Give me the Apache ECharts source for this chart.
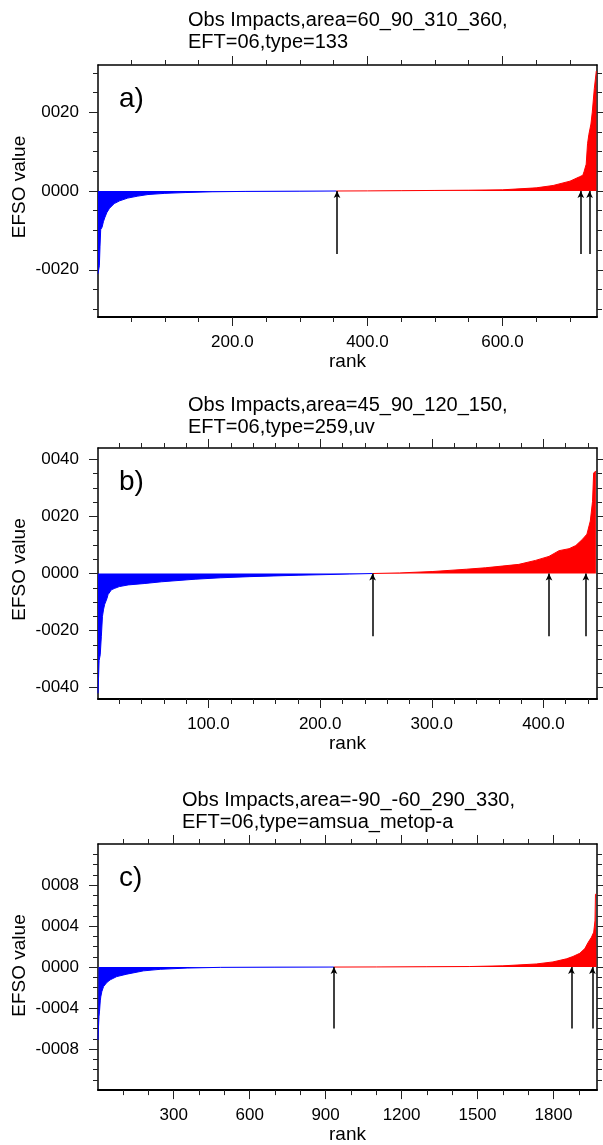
<!DOCTYPE html>
<html>
<head>
<meta charset="utf-8">
<script src="https://cdn.jsdelivr.net/npm/echarts@6/dist/echarts.min.js"></script>
<style>
html,body{margin:0;padding:0;background:#fff;}
#chart{width:603px;height:1145px;}
</style>
</head>
<body>
<div id="chart"></div>
<script>
// ---------- data (rank, EFSO value) ----------
const negA = [[1,-0.00210],[2,-0.00205],[3,-0.00190],[4,-0.00140],[5,-0.00098],[7,-0.00092],[9,-0.00078],[11,-0.00068],[14,-0.00055],[18,-0.00044],[25,-0.00032],[33,-0.00025],[45,-0.00018],[60,-0.00013],[75,-0.00009],[100,-0.00006],[130,-0.00004],[170,-0.00002],[220,-0.00001],[300,-0.000004],[354,0]];
const posA = [[354,0],[400,0.000003],[450,0.000008],[500,0.000014],[550,0.00002],[600,0.00003],[650,0.00008],[675,0.00014],[700,0.00025],[714,0.00036],[719,0.00040],[721,0.00050],[724,0.00068],[726,0.00120],[728,0.00144],[731,0.00170],[733,0.00200],[736,0.00260],[739,0.00305]];
const arrowsA = [355, 716, 729];
const arrowLowA = -0.0016;

const negB = [[1,-0.00420],[2,-0.00305],[3,-0.00285],[4,-0.00220],[5,-0.00150],[6,-0.00125],[7,-0.00108],[9,-0.00088],[10,-0.00074],[13,-0.00057],[16,-0.00052],[20,-0.00046],[28,-0.00040],[43,-0.00035],[58,-0.00029],[88,-0.00020],[111,-0.00015],[137,-0.00011],[181,-0.00006],[226,-0.00002],[247,0]];
const posB = [[247,0],[271,0.00002],[301,0.00007],[331,0.00015],[348,0.00020],[363,0.00026],[378,0.00032],[393,0.00046],[405,0.00060],[414,0.00080],[423,0.00087],[429,0.00098],[435,0.00120],[439,0.00138],[442,0.00184],[444,0.00253],[445,0.00352],[447,0.00360]];
const arrowsB = [247, 405, 438];
const arrowLowB = -0.0022;

const negC = [[1,-0.00071],[3,-0.00058],[5,-0.00048],[7,-0.00043],[10,-0.00033],[12,-0.00029],[16,-0.00024],[23,-0.00019],[36,-0.00015],[49,-0.000125],[75,-0.000093],[115,-0.000069],[181,-0.000037],[247,-0.000022],[353,-0.00001],[485,-0.000003],[700,-0.000001],[933,0]];
const posC = [[933,0],[1100,0.000001],[1300,0.000003],[1468,0.000005],[1600,0.000012],[1732,0.00003],[1798,0.00005],[1851,0.00008],[1877,0.000103],[1904,0.000134],[1924,0.00018],[1937,0.00024],[1950,0.00029],[1959,0.00034],[1964,0.00045],[1966,0.00071],[1970,0.00071]];
const arrowsC = [933, 1871, 1954];
const arrowLowC = -0.0006;

// ---------- ticks ----------
const xMajorA = [200, 400, 600];
const xMinorA = [50,100,150,250,300,350,450,500,550,650,700];
const yMajorA = [-0.002, 0, 0.002];
const yMinorA = [-0.003,-0.0025,-0.0015,-0.001,-0.0005,0.0005,0.001,0.0015,0.0025,0.003];

const xMajorB = [100, 200, 300, 400];
const xMinorB = [20,40,60,80,120,140,160,180,220,240,260,280,320,340,360,380,420,440];
const yMajorB = [-0.004, -0.002, 0, 0.002, 0.004];
const yMinorB = [-0.0035,-0.003,-0.0025,-0.0015,-0.001,-0.0005,0.0005,0.001,0.0015,0.0025,0.003,0.0035];

const xMajorC = [300, 600, 900, 1200, 1500, 1800];
const xMinorC = [100,200,400,500,700,800,1000,1100,1300,1400,1600,1700,1900];
const yMajorC = [-0.0008, -0.0004, 0, 0.0004, 0.0008];
const yMinorC = [-0.0011,-0.001,-0.0009,-0.0007,-0.0006,-0.0005,-0.0003,-0.0002,-0.0001,0.0001,0.0002,0.0003,0.0005,0.0006,0.0007,0.0009,0.001,0.0011];

const titles = [
  'Obs Impacts,area=60_90_310_360,\nEFT=06,type=133',
  'Obs Impacts,area=45_90_120_150,\nEFT=06,type=259,uv',
  'Obs Impacts,area=-90_-60_290_330,\nEFT=06,type=amsua_metop-a'
];
const panelTags = ['a)', 'b)', 'c)'];

// ---------- layout ----------
const FONT = 'Liberation Sans';
const panels = [
  {top:65, height:252, xmin:1, xmax:740, ymin:-0.0032, ymax:0.0032, xMaj:xMajorA, xMin:xMinorA, yMaj:yMajorA, yMin:yMinorA, neg:negA, pos:posA, arrows:arrowsA, low:arrowLowA, xfmt:v=>v.toFixed(1), titleTop:9, titleLeft:188},
  {top:448, height:251, xmin:1, xmax:448, ymin:-0.0044, ymax:0.0044, xMaj:xMajorB, xMin:xMinorB, yMaj:yMajorB, yMin:yMinorB, neg:negB, pos:posB, arrows:arrowsB, low:arrowLowB, xfmt:v=>v.toFixed(1), titleTop:394, titleLeft:188},
  {top:844, height:251, xmin:1, xmax:1972, ymin:-0.0012, ymax:0.0012, xMaj:xMajorC, xMin:xMinorC, yMaj:yMajorC, yMin:yMinorC, neg:negC, pos:posC, arrows:arrowsC, low:arrowLowC, xfmt:v=>String(v), titleTop:789, titleLeft:182}
];

function yfmt(v){
  const n = Math.round(Math.abs(v) * 1e4);
  return (v < 0 ? '-' : '') + String(n).padStart(4, '0');
}

const grid = [], xAxis = [], yAxis = [], series = [], title = [], graphic = [];
const tickColor = '#222';

panels.forEach((p, i) => {
  grid.push({left:98, right:6, top:p.top, height:p.height, containLabel:false});
  const base = {type:'value', gridIndex:i, splitLine:{show:false}};
  // x axes
  xAxis.push(Object.assign({}, base, {
    min:p.xmin, max:p.xmax, position:'bottom',
    axisLine:{show:true, onZero:false, lineStyle:{color:'#000', width:2}},
    axisTick:{show:true, length:9, customValues:p.xMaj, lineStyle:{color:tickColor, width:1}},
    axisLabel:{show:true, customValues:p.xMaj, formatter:p.xfmt, margin:17, fontSize:17, color:'#000', fontFamily:FONT},
    name:'rank', nameLocation:'middle', nameGap:33,
    nameTextStyle:{fontSize:19, color:'#000', fontFamily:FONT}
  }));
  xAxis.push(Object.assign({}, base, {
    min:p.xmin, max:p.xmax, position:'bottom',
    axisLine:{show:false, onZero:false},
    axisTick:{show:true, length:5, customValues:p.xMin, lineStyle:{color:tickColor, width:1}},
    axisLabel:{show:false}
  }));
  xAxis.push(Object.assign({}, base, {
    min:p.xmin, max:p.xmax, position:'top',
    axisLine:{show:true, onZero:false, lineStyle:{color:'#000', width:1.5}},
    axisTick:{show:true, length:9, customValues:p.xMaj, lineStyle:{color:tickColor, width:1}},
    axisLabel:{show:false}
  }));
  xAxis.push(Object.assign({}, base, {
    min:p.xmin, max:p.xmax, position:'top',
    axisLine:{show:false, onZero:false},
    axisTick:{show:true, length:5, customValues:p.xMin, lineStyle:{color:tickColor, width:1}},
    axisLabel:{show:false}
  }));
  // y axes
  yAxis.push(Object.assign({}, base, {
    min:p.ymin, max:p.ymax, position:'left',
    axisLine:{show:true, onZero:false, lineStyle:{color:'#000', width:1.5}},
    axisTick:{show:true, length:9, customValues:p.yMaj, lineStyle:{color:tickColor, width:1}},
    axisLabel:{show:true, customValues:p.yMaj, formatter:yfmt, margin:19, fontSize:17, color:'#000', fontFamily:FONT}
  }));
  yAxis.push(Object.assign({}, base, {
    min:p.ymin, max:p.ymax, position:'left',
    axisLine:{show:false, onZero:false},
    axisTick:{show:true, length:5, customValues:p.yMin, lineStyle:{color:tickColor, width:1}},
    axisLabel:{show:false}
  }));
  yAxis.push(Object.assign({}, base, {
    min:p.ymin, max:p.ymax, position:'right',
    axisLine:{show:true, onZero:false, lineStyle:{color:'#000', width:1.5}},
    axisTick:{show:true, length:9, customValues:p.yMaj, lineStyle:{color:tickColor, width:1}},
    axisLabel:{show:false}
  }));
  yAxis.push(Object.assign({}, base, {
    min:p.ymin, max:p.ymax, position:'right',
    axisLine:{show:false, onZero:false},
    axisTick:{show:true, length:5, customValues:p.yMin, lineStyle:{color:tickColor, width:1}},
    axisLabel:{show:false}
  }));

  const xi = i * 4, yi = i * 4;
  series.push({
    type:'line', xAxisIndex:xi, yAxisIndex:yi, data:p.neg, showSymbol:false, symbol:'none',
    lineStyle:{color:'#0000ff', width:1}, areaStyle:{color:'#0000ff', opacity:1}, silent:true, animation:false, z:2
  });
  series.push({
    type:'line', xAxisIndex:xi, yAxisIndex:yi, data:p.pos, showSymbol:false, symbol:'none',
    lineStyle:{color:'#ff0000', width:1}, areaStyle:{color:'#ff0000', opacity:1}, silent:true, animation:false, z:2,
    markLine:{
      silent:true, animation:false, symbol:['none','arrow'], symbolSize:[5,7],
      label:{show:false},
      lineStyle:{color:'#000', width:1.5, type:'solid'},
      data:p.arrows.map(r => [{coord:[r, p.low]}, {coord:[r, 0]}])
    }
  });

  title.push({
    text:titles[i], left:p.titleLeft, top:p.titleTop, padding:0,
    textStyle:{fontSize:20, fontWeight:'normal', color:'#000', lineHeight:22, fontFamily:FONT}
  });
  graphic.push({
    type:'text', left:119, top:p.top + 20,
    style:{text:panelTags[i], fontSize:28, fill:'#000', fontFamily:FONT}
  });
  graphic.push({
    type:'text', x:20, y:p.top + p.height/2 - 4, rotation:Math.PI/2,
    style:{text:'EFSO value', fontSize:19, fill:'#000', fontFamily:FONT, textAlign:'center', textVerticalAlign:'middle'}
  });
});

const chart = echarts.init(document.getElementById('chart'), null, {renderer:'canvas'});
chart.setOption({animation:false, backgroundColor:'#fff', title, grid, xAxis, yAxis, series, graphic});
</script>
</body>
</html>
